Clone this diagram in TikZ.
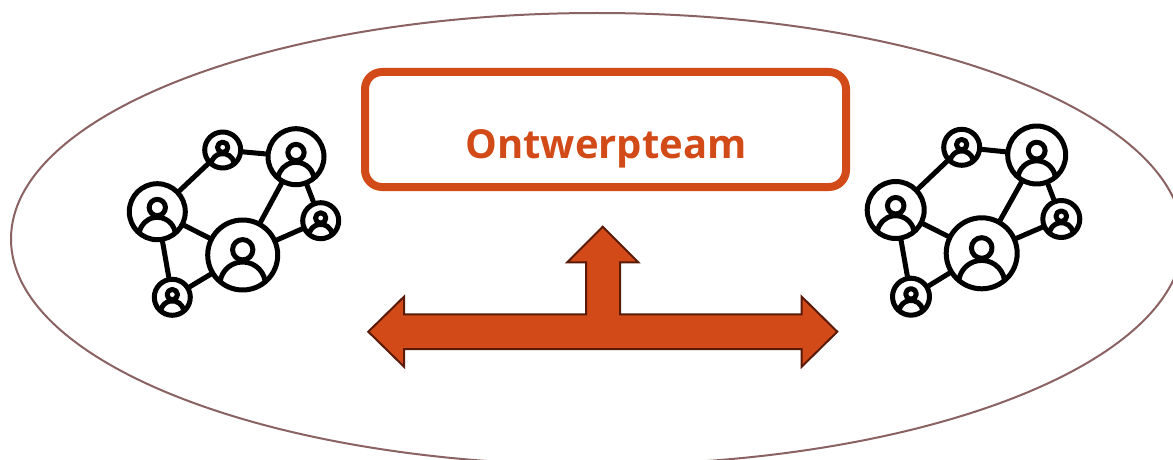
\documentclass[tikz,border=0pt]{standalone}
\usepackage{fontspec}
\setmainfont{Open Sans}
\definecolor{teamorange}{HTML}{D24A17}
\definecolor{arrowedge}{HTML}{5A1A08}
\definecolor{ringcolor}{HTML}{8A6262}
\tikzset{
	member/.style={circle,draw=black,fill=white,inner sep=0pt},
	link/.style={draw=black,line width=5pt},
	teambox/.style={draw=teamorange,line width=8pt,rounded corners=17pt,minimum width=481pt,minimum height=115pt}
}
% one person: name, x, y, radius, line width
\newcommand{\person}[5]{
	\node[member,line width=#5,minimum size=#4*2pt] (#1) at (#2,#3) {};
	\draw[line width=#5] (#2,#3-0.15*#4) circle ({0.29*#4});
	\draw[line width=#5] ({#2+0.64*#4},{#3+0.737*#4}) arc (10:170:0.65*#4 and -0.65*#4);
}
\begin{document}
\begin{tikzpicture}[x=1pt,y=-1pt,line cap=round,line join=round]
	\useasboundingbox (0,0) rectangle (1173,460);
	\clip (0,0) rectangle (1173,460);
	\draw[color=ringcolor,line width=2pt] (597,239) ellipse (586 and 226);
	\node[teambox] (team) at (605.5,129.5) {};
	\node[anchor=base,text=teamorange,font=\bfseries\fontsize{40}{42}\selectfont] (teamtext) at (606,158) {Ontwerpteam};
	% left network
	\person{lbig}{242.7}{255}{35}{5pt}
	\person{lleft}{157.3}{211.7}{28}{5pt}
	\person{ltop}{222.7}{150}{18}{5pt}
	\person{lhigh}{296}{156.7}{28}{5pt}
	\person{lright}{320.7}{220.7}{18}{5pt}
	\person{lbottom}{172.3}{297.3}{18}{5pt}
	\draw[link] (lbig) -- (lleft);
	\draw[link] (lbig) -- (lhigh);
	\draw[link] (lbig) -- (lright);
	\draw[link] (lbig) -- (lbottom);
	\draw[link] (lleft) -- (ltop);
	\draw[link] (lleft) -- (lbottom);
	\draw[link] (ltop) -- (lhigh);
	\draw[link] (lhigh) -- (lright);
	% right network
	\person{rbig}{981.7}{253.3}{35.5}{5pt}
	\person{rleft}{895.7}{210}{28.5}{5pt}
	\person{rtop}{961.7}{147.3}{18}{5pt}
	\person{rhigh}{1036.7}{155}{29}{5pt}
	\person{rright}{1061.3}{219}{18.5}{5pt}
	\person{rbottom}{911}{296.7}{18.5}{5pt}
	\draw[link] (rbig) -- (rleft);
	\draw[link] (rbig) -- (rhigh);
	\draw[link] (rbig) -- (rright);
	\draw[link] (rbig) -- (rbottom);
	\draw[link] (rleft) -- (rtop);
	\draw[link] (rleft) -- (rbottom);
	\draw[link] (rtop) -- (rhigh);
	\draw[link] (rhigh) -- (rright);
	% three way arrow
	\draw[draw=arrowedge,fill=teamorange,line width=2pt,line join=miter] (368.3,331.7) -- (404,296.7) -- (404,314.3) -- (586,314.3) -- (586,262.3) -- (567.3,262.3) -- (602.7,226.7) -- (638.3,262.3) -- (620,262.3) -- (620,314.3) -- (801.7,314.3) -- (801.7,296.7) -- (837.3,331.7) -- (801.7,366.7) -- (801.7,349) -- (404,349) -- (404,366.7) -- cycle;
\end{tikzpicture}
\end{document}
